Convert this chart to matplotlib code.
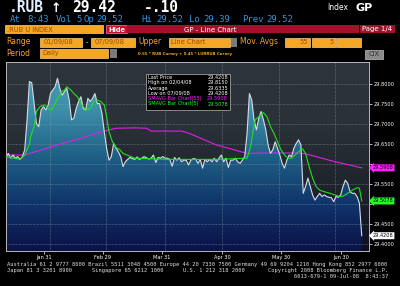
import numpy as np
import matplotlib
matplotlib.use("Agg")
import matplotlib.pyplot as plt
from matplotlib.colors import LinearSegmentedColormap
from matplotlib.patches import Rectangle

# last price, one reading per session (01/09/08 - 07/09/08)
price = [29.619, 29.627, 29.615, 29.623, 29.615, 29.619, 29.612, 29.619, 29.636, 29.711,
         29.807, 29.804, 29.752, 29.702, 29.694, 29.736, 29.744, 29.736, 29.748, 29.777,
         29.786, 29.794, 29.815, 29.790, 29.773, 29.782, 29.790, 29.761, 29.711, 29.715,
         29.740, 29.757, 29.769, 29.740, 29.736, 29.765, 29.757, 29.765, 29.777, 29.752,
         29.752, 29.727, 29.681, 29.640, 29.610, 29.619, 29.652, 29.640, 29.631, 29.619,
         29.594, 29.606, 29.612, 29.617, 29.614, 29.612, 29.618, 29.612, 29.615, 29.619,
         29.616, 29.613, 29.615, 29.623, 29.604, 29.617, 29.615, 29.619, 29.615, 29.615,
         29.612, 29.595, 29.617, 29.610, 29.616, 29.606, 29.610, 29.610, 29.598, 29.610,
         29.614, 29.613, 29.602, 29.612, 29.590, 29.612, 29.606, 29.612, 29.606, 29.615,
         29.606, 29.615, 29.623, 29.606, 29.615, 29.592, 29.610, 29.610, 29.615, 29.606,
         29.602, 29.610, 29.619, 29.677, 29.777, 29.761, 29.711, 29.686, 29.715, 29.732,
         29.711, 29.686, 29.648, 29.627, 29.636, 29.656, 29.640, 29.623, 29.602, 29.590,
         29.610, 29.623, 29.619, 29.640, 29.652, 29.661, 29.648, 29.527, 29.544, 29.565,
         29.544, 29.523, 29.510, 29.519, 29.527, 29.519, 29.523, 29.519, 29.517, 29.516,
         29.506, 29.519, 29.517, 29.523, 29.544, 29.560, 29.552, 29.531, 29.527, 29.527,
         29.519, 29.502, 29.4208]

# 5 day moving average, read at session positions
ma5_x = [0, 6, 8, 10, 10.5, 12, 13, 14.5, 16, 16.5, 18, 19.5, 21, 22.5, 24, 25, 26, 27.5, 29,
         30.5, 32, 33.5, 35, 36.5, 37.5, 39, 40.5, 42, 43, 44, 45.5, 47, 48.5, 50, 55, 70, 90,
         103, 104.5, 105.5, 106.5, 108, 110, 111.5, 113, 114.5, 116, 117.5, 119, 120.5, 122,
         123.5, 125, 126.5, 128, 129.5, 131, 132.5, 134, 136, 138.5, 140.5, 142.5, 144, 146,
         148, 150, 151, 152]
ma5 = [29.619, 29.612, 29.623, 29.650, 29.669, 29.694, 29.732, 29.744, 29.748, 29.748, 29.740,
       29.736, 29.752, 29.769, 29.782, 29.786, 29.794, 29.787, 29.777, 29.769, 29.752, 29.740,
       29.736, 29.744, 29.757, 29.761, 29.757, 29.748, 29.719, 29.681, 29.656, 29.642, 29.637,
       29.627, 29.615, 29.612, 29.612, 29.615, 29.644, 29.681, 29.711, 29.719, 29.729, 29.719,
       29.694, 29.677, 29.656, 29.636, 29.623, 29.615, 29.615, 29.623, 29.631, 29.640, 29.627,
       29.594, 29.565, 29.544, 29.535, 29.531, 29.527, 29.523, 29.519, 29.520, 29.527, 29.535,
       29.541, 29.540, 29.5078]

# 55 day moving average
ma55_x = [0, 8, 20, 32, 40, 47, 55, 60, 62, 75, 78, 90, 103, 110, 125, 128, 140, 152]
ma55 = [29.623, 29.623, 29.645, 29.665, 29.680, 29.690, 29.691, 29.690, 29.683, 29.683,
        29.678, 29.648, 29.627, 29.628, 29.628, 29.626, 29.607, 29.5908]

tick_pos = [16.1, 41.4, 66.7, 92.3, 117.5, 143.2]
tick_labels = ["Jan 31", "Feb 29", "Mar 31", "Apr 30", "May 30", "Jun 30"]
grid_pos = [18.6, 42.9, 67.8, 92.3, 116.5, 140.7]
ytick_vals = [29.40, 29.45, 29.50, 29.55, 29.60, 29.65, 29.70, 29.75, 29.80]

legend_rows = [("Last Price", "29.4208", "white"),
               ("High on 02/04/08", "29.8150", "white"),
               ("Average", "29.6335", "white"),
               ("Low on 07/09/08", "29.4208", "white"),
               ("SMAVG Bar Chart(55)", "29.5908", "#ff20ff"),
               ("SMAVG Bar Chart(5)", "29.5078", "#20ff20")]

W, H = 400, 286
ORANGE = "#f5a623"
RED = "#a3112a"
MONO = "DejaVu Sans Mono"

fig = plt.figure(figsize=(4, 2.86), dpi=100, facecolor="black")


def px(x, y):
    return x / W, 1 - y / H


def box(x0, y0, x1, y1, fc, ec="none", lw=0.5):
    fig.patches.append(Rectangle((x0 / W, 1 - y1 / H), (x1 - x0) / W, (y1 - y0) / H,
                                 facecolor=fc, edgecolor=ec, lw=lw, transform=fig.transFigure))


def txt(x, y, s, size=5, color="white", ha="left", family="DejaVu Sans", weight="normal"):
    fig.text(*px(x, y), s, fontsize=size, color=color, ha=ha, va="center",
             family=family, weight=weight)


# header
txt(9, 8, ".RUB", 10.5, "#dfefff", family=MONO, weight="bold")
txt(51, 8, "\u2191", 9, "white", weight="bold")
txt(72, 8, "29.42", 10.5, "white", family=MONO, weight="bold")
txt(144, 8, "-.10", 10.5, "white", family=MONO, weight="bold")
txt(327, 8, "Index", 5.5, "white")
txt(355, 8, "GP", 8, "white", weight="bold")

blue = "#2f95e0"
for x, s in [(10, "At"), (27, "8:43"), (56, "Vol"), (76, "5"), (83, "Op"), (96, "29.52"),
             (141, "Hi"), (156, "29.52"), (189, "Lo"), (203, "29.39"), (242, "Prev"), (266, "29.52")]:
    txt(x, 19.5, s, 6.5, blue, family=MONO)

# function bar
box(5, 25.5, 103, 33.5, ORANGE, "#ffd080")
txt(7, 29.5, ".RUB U INDEX", 4.8, "#9a4b00")
box(106, 25.5, 127, 33.5, "#c8102e", "#ff8090")
txt(116.5, 29.5, "Hide", 4.8, "white", ha="center", weight="bold")
box(127, 25.5, 359, 33.5, RED)
txt(210, 29.5, "GP - Line Chart", 5, "white", ha="center")
box(360, 25.5, 395, 33.5, RED)
txt(362, 29.5, "Page 1/4", 5, "white")

txt(6, 42, "Range", 5.5, ORANGE)
box(40, 37.5, 82, 46.5, ORANGE, "#ffd080")
txt(44, 42, "01/09/08", 4.8, "#9a4b00")
txt(86, 42, "-", 5, "white")
box(91, 37.5, 135, 46.5, ORANGE, "#ffd080")
txt(95, 42, "07/09/08", 4.8, "#9a4b00")
txt(138, 42, "Upper", 5.5, ORANGE)
box(169, 37.5, 230, 46.5, ORANGE, "#ffd080")
txt(171, 42, "Line Chart", 4.8, "#9a4b00")
box(231, 37.5, 237, 46.5, "#7a7a7a")
txt(240, 42, "Mov. Avgs", 5.5, ORANGE)
box(285, 37.5, 310, 46.5, ORANGE, "#ffd080")
txt(308, 42, "55", 4.8, "#9a4b00", ha="right")
box(312, 37.5, 336, 46.5, ORANGE, "#ffd080")
txt(334, 42, "5", 4.8, "#9a4b00", ha="right")
box(337, 37.5, 361, 46.5, ORANGE, "#ffd080")

txt(6, 53.5, "Period", 5.5, ORANGE)
box(40, 49, 108, 58, ORANGE, "#ffd080")
txt(42, 53.5, "Daily", 4.8, "#9a4b00")
box(110, 49, 117, 58, "#7a7a7a")
txt(138, 54, "0.55 * RUB Curncy + 0.45 * LURRUB Curncy", 2.8, ORANGE, weight="bold")
box(365, 50, 383, 59, "#8a8a8a", "#c0c0c0")
txt(374, 54.5, "CIX", 4.8, "#303030", ha="center")

# chart
ax = fig.add_axes([6 / W, 1 - 251 / H, (369 - 6) / W, (251 - 62) / H])
x = np.arange(len(price))
xmin, xmax = 0, 155.1
ymin, ymax = 29.3825, 29.856
ax.set_xlim(xmin, xmax)
ax.set_ylim(ymin, ymax)

bg = LinearSegmentedColormap.from_list("bg", ["#0c0f22", "#1e232c", "#2b3138", "#2e343b"])
grad = np.linspace(0, 1, 256).reshape(-1, 1)
ax.imshow(grad, extent=[xmin, xmax, ymin, ymax], origin="lower", cmap=bg,
          aspect="auto", zorder=0, interpolation="bilinear")

fc = LinearSegmentedColormap.from_list("fill", ["#0a1248", "#10356a", "#1e5f85", "#3d8faa", "#4a9cb5"])
im = ax.imshow(grad, extent=[xmin, xmax, ymin, ymax], origin="lower", cmap=fc,
               aspect="auto", zorder=1, interpolation="bilinear")
poly = ax.fill_between(x, price, ymin, color="none", lw=0)
im.set_clip_path(poly.get_paths()[0], transform=ax.transData)

for g in grid_pos:
    ax.axvline(g, color="#9aa4b0", lw=0.4, ls=(0, (1, 1.5)), zorder=2)
for v in ytick_vals:
    ax.axhline(v, color="#9aa4b0", lw=0.4, ls=(0, (1, 1.5)), zorder=2)

ax.plot(ma55_x, ma55, color="#e020e0", lw=0.8, zorder=3)
ax.plot(x, price, color="#d6dde4", lw=0.8, zorder=4)
ax.plot(ma5_x, ma5, color="#20e020", lw=0.8, zorder=5)

tags = [(29.5908, "#ff20ff"), (29.5078, "#20ff20"), (29.4208, "white")]

ax.set_xticks(tick_pos)
ax.set_xticklabels(tick_labels)
ax.yaxis.tick_right()
ax.set_yticks(ytick_vals)
# labels sitting under the value tags are hidden, as on the terminal
ax.set_yticklabels(["" if any(abs(v - t) < 0.015 for t, _ in tags) else f"{v:.4f}"
                    for v in ytick_vals])
ax.tick_params(axis="both", colors="white", labelsize=3.6, length=2, width=0.5, pad=1.5)
ax.tick_params(axis="x", pad=1)
for s in ax.spines.values():
    s.set_color("#b8b8b8")
    s.set_linewidth(0.7)

for val, col in tags:
    ax.text(1.01, val, f"{val:.4f}", transform=ax.get_yaxis_transform(), fontsize=3.6,
            color="black", va="center", ha="left", zorder=10, clip_on=False,
            bbox=dict(boxstyle="larrow,pad=0.2", fc=col, ec="none"))

# legend box
box(146, 74, 230, 110, "black", "#a0a0a0", 0.6)
for i, (lab, val, col) in enumerate(legend_rows):
    yy = 77.5 + i * 5.3
    txt(148, yy, lab, 3.6, col)
    txt(228, yy, val, 3.6, col, ha="right")

# footer
grey = "#e0e0e0"
txt(7, 264.5, "Australia 61 2 9777 8600 Brazil 5511 3048 4500 Europe 44 20 7330 7500 "
    "Germany 49 69 9204 1210 Hong Kong 852 2977 6000", 3.9, grey, family=MONO)
txt(7, 270.5, "Japan 81 3 3201 8900", 3.9, grey, family=MONO)
txt(92, 270.5, "Singapore 65 6212 1000", 3.9, grey, family=MONO)
txt(183, 270.5, "U.S. 1 212 318 2000", 3.9, grey, family=MONO)
txt(388, 270.5, "Copyright 2008 Bloomberg Finance L.P.", 3.9, grey, ha="right", family=MONO)
txt(388, 276.5, "6613-679-1 09-Jul-08  8:43:37", 3.9, grey, ha="right", family=MONO)

fig.savefig("out.png", dpi=100, facecolor="black")
